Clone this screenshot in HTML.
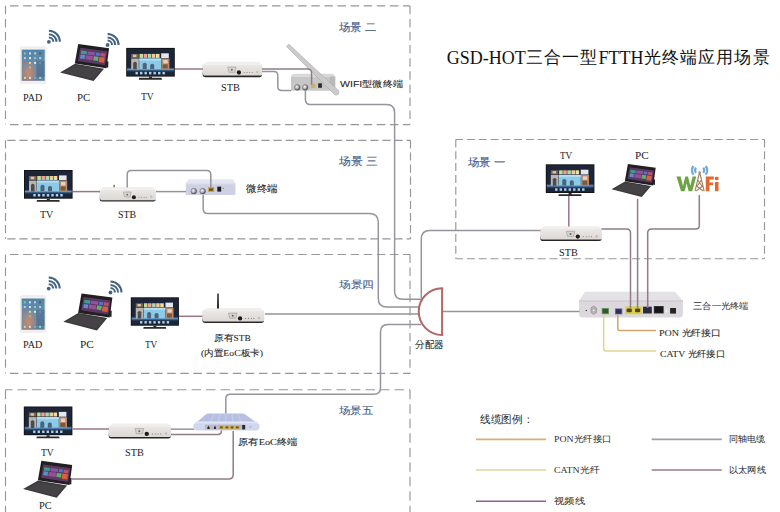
<!DOCTYPE html>
<html><head><meta charset="utf-8">
<style>
*{margin:0;padding:0;box-sizing:border-box}
html,body{width:780px;height:512px;overflow:hidden;background:#fff}
body{position:relative;font-family:"Liberation Serif",serif;color:#222}
svg{position:absolute;left:0;top:0}
.t{position:absolute;white-space:nowrap;line-height:1;transform-origin:0 0}
.s{font-family:"Liberation Sans",sans-serif}
.lab{font-size:11px;color:#333}
.cj{font-size:16.6px;letter-spacing:1.2px;position:relative;top:-1.2px}
.sc{font-family:"Liberation Sans",sans-serif;font-size:10.5px;color:#52688e}
</style></head><body>
<svg width="780" height="512" viewBox="0 0 780 512">
<defs>
<linearGradient id="padg" x1="0" y1="0" x2="0" y2="1"><stop offset="0" stop-color="#4f86aa"/><stop offset=".5" stop-color="#6c8ea6"/><stop offset="1" stop-color="#5a7f9c"/></linearGradient>
<radialGradient id="pado" cx=".3" cy=".78" r=".42"><stop offset="0" stop-color="#d98c60" stop-opacity=".9"/><stop offset=".55" stop-color="#c88a78" stop-opacity=".5"/><stop offset="1" stop-color="#c98a72" stop-opacity="0"/></radialGradient>
<linearGradient id="stbf" x1="0" y1="0" x2="0" y2="1"><stop offset="0" stop-color="#ebe8e5"/><stop offset="1" stop-color="#dcd7d3"/></linearGradient>
<linearGradient id="tvglow" x1="0" y1="0" x2="0" y2="1"><stop offset="0" stop-color="#4a88c4" stop-opacity=".2"/><stop offset=".35" stop-color="#5a98d0"/><stop offset="1" stop-color="#1d2538" stop-opacity="0"/></linearGradient>
<radialGradient id="coax" cx=".4" cy=".4" r=".6"><stop offset="0" stop-color="#fafafa"/><stop offset=".5" stop-color="#b4b4b4"/><stop offset="1" stop-color="#4a4a4a"/></radialGradient>





</defs>
<!-- dashed boxes -->
<g fill="none" stroke="#979797" stroke-width="1.15">
<path d="M5.5 5.8 H410" stroke-dasharray="8.5 4.6" stroke-dashoffset="-4.5"/>
<path d="M5.5 5.8 V124.6" stroke-dasharray="8.5 4.6"/>
<path d="M410 5.8 V124.6" stroke-dasharray="8.5 4.6"/>
<path d="M5.5 124.6 H410" stroke-dasharray="8.5 4.6" stroke-dashoffset="-4.5"/>
<path d="M5.5 140.3 H410.5" stroke-dasharray="8.2 3.9" stroke-dashoffset="-1.8"/>
<path d="M5.5 140.3 V238.8" stroke-dasharray="8.2 3.9"/>
<path d="M410.5 140.3 V238.8" stroke-dasharray="8.2 3.9"/>
<path d="M5.5 238.8 H410.5" stroke-dasharray="8.2 3.9" stroke-dashoffset="-1.8"/>
<path d="M5.5 254.5 H410" stroke-dasharray="8.5 4.6" stroke-dashoffset="-4.5"/>
<path d="M5.5 254.5 V373.4" stroke-dasharray="8.5 4.6"/>
<path d="M410 254.5 V373.4" stroke-dasharray="8.5 4.6"/>
<path d="M5.5 373.4 H410" stroke-dasharray="8.5 4.6" stroke-dashoffset="-4.5"/>
<path d="M5.5 389.7 H410" stroke-dasharray="9.5 5" stroke-dashoffset="2.5"/>
<path d="M5.5 389.7 V530" stroke-dasharray="9.5 5"/>
<path d="M410 389.7 V530" stroke-dasharray="9.5 5"/>
<path d="M455.8 139.5 H764.5" stroke-dasharray="8 3.8" stroke-dashoffset="0.7"/>
<path d="M455.8 139.5 V258.7" stroke-dasharray="8 3.8"/>
<path d="M764.5 139.5 V258.7" stroke-dasharray="8 3.8"/>
<path d="M455.8 258.7 H764.5" stroke-dasharray="8 3.8" stroke-dashoffset="0.7"/>
</g>
<!-- devices -->
<g transform="translate(20.4 46.9)">
 <rect x="0" y="0" width="25.3" height="36.4" rx="1.2" fill="#f3f2f1" stroke="#dcdad8" stroke-width=".5"/>
 <rect x="1.3" y="2.7" width="23" height="31.2" fill="url(#padg)"/>
 <rect x="1.3" y="2.7" width="23" height="31.2" fill="url(#pado)"/>
 <rect x="16" y="14" width="8.3" height="16" fill="#3c6288" opacity=".45"/>
 <g opacity=".9"><rect x="3.5" y="5.5" width="2" height="2" fill="#9ad08a"/><rect x="8.6" y="5.5" width="2" height="2" fill="#e8eef4"/><rect x="13.7" y="5.5" width="2" height="2" fill="#d0d8e0"/><rect x="18.8" y="5.5" width="2" height="2" fill="#505868"/><rect x="3.5" y="10.2" width="2" height="2" fill="#c8d8e8"/><rect x="8.6" y="10.2" width="2" height="2" fill="#f0f0f0"/><rect x="13.7" y="10.2" width="2" height="2" fill="#a0c8e0"/><rect x="18.8" y="10.2" width="2" height="2" fill="#c8d0d8"/><rect x="3.5" y="15" width="2" height="2" fill="#e06060"/><rect x="8.6" y="15" width="2" height="2" fill="#f0e090"/><rect x="13.7" y="15" width="2" height="2" fill="#f4f4f4"/><rect x="18.8" y="15" width="2" height="2" fill="#8090b0"/><rect x="8.6" y="19.6" width="2" height="2" fill="#f0b060"/><rect x="3.5" y="30" width="2" height="2" fill="#f0e0a0"/><rect x="8.6" y="30" width="2" height="2" fill="#e0e8f0"/><rect x="13.7" y="30" width="2" height="2" fill="#70b0e0"/><rect x="18.8" y="30" width="2" height="2" fill="#a0e0e0"/></g></g>
<g transform="translate(60 44.1)">
 <path d="M0 28.3 L15 19.6 L44 24.6 L33.6 37 Z" fill="#3b393b"/>
 <path d="M3 28.3 L15.5 21.2 L41.5 25.6 L33 35 Z" fill="#444244"/>
 <path d="M18.2 0 L49.1 4.1 L46.4 24.2 L14.8 19.5 Z" fill="#221e21"/>
 <path d="M20.3 3.6 L47.2 7.2 L45 21.2 L17.9 16.9 Z" fill="#5a3a62"/>
 <path d="M21.2 6.5 L27 7.2 L26.6 10.3 L20.8 9.6 Z" fill="#3aa08e"/>
 <path d="M27.8 7.3 L35 8.2 L34.5 11.3 L27.4 10.4 Z" fill="#8a55a8"/>
 <path d="M36 8.3 L40 8.8 L39.6 11.8 L35.6 11.3 Z" fill="#4a78c8"/>
 <path d="M40.8 8.9 L45.5 9.5 L45 12.6 L40.4 12 Z" fill="#c2506a"/>
 <path d="M20.6 10.5 L25 11 L24.5 15 L20 14.4 Z" fill="#5e8ad0"/>
 <path d="M25.8 11.1 L33 12 L32.4 16.1 L25.3 15.2 Z" fill="#9a4e9a"/>
 <path d="M33.8 12.1 L38.5 12.7 L37.9 16.8 L33.2 16.2 Z" fill="#60b06a"/>
 <path d="M39.3 12.8 L44.8 13.5 L44.1 18.7 L38.6 17.9 Z" fill="#d8603e"/>
 <path d="M46.3 17 L48.4 17.3 L48.2 23.6 L46 23.1 Z" fill="#252525"/></g>
<g transform="translate(126.2 47.9)">
 <rect x="0" y="0" width="48.6" height="28.7" fill="#121216"/>
 <rect x="0.9" y="0.9" width="46.8" height="26.9" fill="#1d2538"/>
 <rect x="0.9" y="19.8" width="46.8" height="5" fill="url(#tvglow)"/>
 <rect x="5" y="6" width="7.5" height="4" fill="#7a6650"/>
 <rect x="6.8" y="6.8" width="3.4" height="2.4" fill="#d8c8b0"/>
 <rect x="13.3" y="6" width="3.6" height="4" fill="#c6dc96"/>
 <rect x="17.4" y="6" width="3.6" height="4" fill="#eba098"/>
 <rect x="21.5" y="6" width="3.6" height="4" fill="#acd8ac"/>
 <rect x="25.6" y="6" width="3.6" height="4" fill="#f3c998"/>
 <rect x="29.7" y="6" width="3.6" height="4" fill="#f2de98"/>
 <rect x="35" y="5.4" width="7.6" height="4.8" fill="#e6e6ee"/>
 <rect x="5" y="10.6" width="7.6" height="10.8" fill="#b8b6ae"/>
 <path d="M7 21.4 V15 Q8.8 12.5 10.6 15 V21.4 Z" fill="#4a4c4e"/>
 <rect x="13" y="10.6" width="22" height="10.6" fill="#8ccae9"/>
 <rect x="13" y="10.6" width="22" height="2" fill="#b4def2"/>
 <path d="M16.5 21.2 V16 Q18.5 13.5 20.5 16 V21.2 Z M24 21.2 V17 Q26 14.8 28 17 V21.2 Z" fill="#4c6478"/>
 <rect x="35.2" y="10.6" width="8" height="10.8" fill="#b88a64"/>
 <rect x="37" y="12" width="4.5" height="3.5" fill="#ece4dc" opacity=".8"/>
 <rect x="36.5" y="16.5" width="5" height="4" fill="#4a3a30" opacity=".6"/>
 <g fill="#a8d0ee"><rect x="9.3" y="24" width="2.4" height="2.5"/><rect x="13.8" y="24" width="2.4" height="2.5"/><rect x="18.3" y="24" width="2.4" height="2.5"/><rect x="22.8" y="24" width="2.4" height="2.5"/><rect x="27.3" y="24" width="2.4" height="2.5"/><rect x="31.8" y="24" width="2.4" height="2.5"/><rect x="36.3" y="24" width="2.4" height="2.5"/></g>
 <path d="M22.8 28.7 H25.8 V29.9 H35.4 L35.8 31.8 H12.6 L13 29.9 H22.8 Z" fill="#2a2a2c"/></g>
<g transform="translate(48.9 41.8)" fill="none" stroke="#436382" stroke-width="2" stroke-linecap="butt">
 <circle cx="0" cy="0" r="1.9" fill="#436382" stroke="none"/>
 <path d="M0 -4.4 A4.4 4.4 0 0 1 4.4 0"/>
 <path d="M0 -7.6 A7.6 7.6 0 0 1 7.6 0"/>
 <path d="M0 -11 A11 11 0 0 1 11 0"/></g>
<g transform="translate(107.6 45)" fill="none" stroke="#436382" stroke-width="2" stroke-linecap="butt">
 <circle cx="0" cy="0" r="1.9" fill="#436382" stroke="none"/>
 <path d="M0 -4.4 A4.4 4.4 0 0 1 4.4 0"/>
 <path d="M0 -7.6 A7.6 7.6 0 0 1 7.6 0"/>
 <path d="M0 -11 A11 11 0 0 1 11 0"/></g>
<g transform="translate(202.5 61.8) scale(0.995 1.03)"><g>
 <path d="M4.2 0 H56.5 L60 2.9 H0 Z" fill="#f1efed"/>
 <path d="M0 2.8 H60 Q60.4 8 59.8 13.4 H0.3 Q-0.3 8 0 2.8 Z" fill="url(#stbf)"/>
 <path d="M0.3 12.6 Q0 14.9 3 14.9 H57.5 Q59.8 14.9 59.8 12.8 L58.8 13.4 H1.6 Z" fill="#262525"/>
 <path d="M0.3 8 Q0 12.8 1.8 13.6 L1 14 Q-0.4 12 0.3 8 Z" fill="#555"/>
 <path d="M25.4 5.1 H33.7 L32.5 10.2 H26.6 Z" fill="#d8d3ce" stroke="#9d9893" stroke-width=".6"/>
 <circle cx="29.5" cy="7.8" r="1" fill="#6d6a66"/>
 <circle cx="36.6" cy="10.4" r="2.1" fill="#1b1b1b"/>
 <g fill="#8a8684"><circle cx="42" cy="10.4" r=".55"/><circle cx="44.8" cy="10.4" r=".55"/><circle cx="47.5" cy="10.4" r=".55"/><circle cx="49.9" cy="10.4" r=".55"/></g>
 <circle cx="55" cy="10" r="1.2" fill="#c4c0bc"/></g></g>
<g transform="translate(24 170)">
 <rect x="0" y="0" width="48.6" height="28.7" fill="#121216"/>
 <rect x="0.9" y="0.9" width="46.8" height="26.9" fill="#1d2538"/>
 <rect x="0.9" y="19.8" width="46.8" height="5" fill="url(#tvglow)"/>
 <rect x="5" y="6" width="7.5" height="4" fill="#7a6650"/>
 <rect x="6.8" y="6.8" width="3.4" height="2.4" fill="#d8c8b0"/>
 <rect x="13.3" y="6" width="3.6" height="4" fill="#c6dc96"/>
 <rect x="17.4" y="6" width="3.6" height="4" fill="#eba098"/>
 <rect x="21.5" y="6" width="3.6" height="4" fill="#acd8ac"/>
 <rect x="25.6" y="6" width="3.6" height="4" fill="#f3c998"/>
 <rect x="29.7" y="6" width="3.6" height="4" fill="#f2de98"/>
 <rect x="35" y="5.4" width="7.6" height="4.8" fill="#e6e6ee"/>
 <rect x="5" y="10.6" width="7.6" height="10.8" fill="#b8b6ae"/>
 <path d="M7 21.4 V15 Q8.8 12.5 10.6 15 V21.4 Z" fill="#4a4c4e"/>
 <rect x="13" y="10.6" width="22" height="10.6" fill="#8ccae9"/>
 <rect x="13" y="10.6" width="22" height="2" fill="#b4def2"/>
 <path d="M16.5 21.2 V16 Q18.5 13.5 20.5 16 V21.2 Z M24 21.2 V17 Q26 14.8 28 17 V21.2 Z" fill="#4c6478"/>
 <rect x="35.2" y="10.6" width="8" height="10.8" fill="#b88a64"/>
 <rect x="37" y="12" width="4.5" height="3.5" fill="#ece4dc" opacity=".8"/>
 <rect x="36.5" y="16.5" width="5" height="4" fill="#4a3a30" opacity=".6"/>
 <g fill="#a8d0ee"><rect x="9.3" y="24" width="2.4" height="2.5"/><rect x="13.8" y="24" width="2.4" height="2.5"/><rect x="18.3" y="24" width="2.4" height="2.5"/><rect x="22.8" y="24" width="2.4" height="2.5"/><rect x="27.3" y="24" width="2.4" height="2.5"/><rect x="31.8" y="24" width="2.4" height="2.5"/><rect x="36.3" y="24" width="2.4" height="2.5"/></g>
 <path d="M22.8 28.7 H25.8 V29.9 H35.4 L35.8 31.8 H12.6 L13 29.9 H22.8 Z" fill="#2a2a2c"/></g>
<g transform="translate(99.5 187) scale(0.94 0.98)"><g>
 <path d="M4.2 0 H56.5 L60 2.9 H0 Z" fill="#f1efed"/>
 <path d="M0 2.8 H60 Q60.4 8 59.8 13.4 H0.3 Q-0.3 8 0 2.8 Z" fill="url(#stbf)"/>
 <path d="M0.3 12.6 Q0 14.9 3 14.9 H57.5 Q59.8 14.9 59.8 12.8 L58.8 13.4 H1.6 Z" fill="#262525"/>
 <path d="M0.3 8 Q0 12.8 1.8 13.6 L1 14 Q-0.4 12 0.3 8 Z" fill="#555"/>
 <path d="M25.4 5.1 H33.7 L32.5 10.2 H26.6 Z" fill="#d8d3ce" stroke="#9d9893" stroke-width=".6"/>
 <circle cx="29.5" cy="7.8" r="1" fill="#6d6a66"/>
 <circle cx="36.6" cy="10.4" r="2.1" fill="#1b1b1b"/>
 <g fill="#8a8684"><circle cx="42" cy="10.4" r=".55"/><circle cx="44.8" cy="10.4" r=".55"/><circle cx="47.5" cy="10.4" r=".55"/><circle cx="49.9" cy="10.4" r=".55"/></g>
 <circle cx="55" cy="10" r="1.2" fill="#c4c0bc"/></g></g>
<g transform="translate(20.3 295.8)">
 <rect x="0" y="0" width="25.3" height="36.4" rx="1.2" fill="#f3f2f1" stroke="#dcdad8" stroke-width=".5"/>
 <rect x="1.3" y="2.7" width="23" height="31.2" fill="url(#padg)"/>
 <rect x="1.3" y="2.7" width="23" height="31.2" fill="url(#pado)"/>
 <rect x="16" y="14" width="8.3" height="16" fill="#3c6288" opacity=".45"/>
 <g opacity=".9"><rect x="3.5" y="5.5" width="2" height="2" fill="#9ad08a"/><rect x="8.6" y="5.5" width="2" height="2" fill="#e8eef4"/><rect x="13.7" y="5.5" width="2" height="2" fill="#d0d8e0"/><rect x="18.8" y="5.5" width="2" height="2" fill="#505868"/><rect x="3.5" y="10.2" width="2" height="2" fill="#c8d8e8"/><rect x="8.6" y="10.2" width="2" height="2" fill="#f0f0f0"/><rect x="13.7" y="10.2" width="2" height="2" fill="#a0c8e0"/><rect x="18.8" y="10.2" width="2" height="2" fill="#c8d0d8"/><rect x="3.5" y="15" width="2" height="2" fill="#e06060"/><rect x="8.6" y="15" width="2" height="2" fill="#f0e090"/><rect x="13.7" y="15" width="2" height="2" fill="#f4f4f4"/><rect x="18.8" y="15" width="2" height="2" fill="#8090b0"/><rect x="8.6" y="19.6" width="2" height="2" fill="#f0b060"/><rect x="3.5" y="30" width="2" height="2" fill="#f0e0a0"/><rect x="8.6" y="30" width="2" height="2" fill="#e0e8f0"/><rect x="13.7" y="30" width="2" height="2" fill="#70b0e0"/><rect x="18.8" y="30" width="2" height="2" fill="#a0e0e0"/></g></g>
<g transform="translate(63.3 293.4)">
 <path d="M0 28.3 L15 19.6 L44 24.6 L33.6 37 Z" fill="#3b393b"/>
 <path d="M3 28.3 L15.5 21.2 L41.5 25.6 L33 35 Z" fill="#444244"/>
 <path d="M18.2 0 L49.1 4.1 L46.4 24.2 L14.8 19.5 Z" fill="#221e21"/>
 <path d="M20.3 3.6 L47.2 7.2 L45 21.2 L17.9 16.9 Z" fill="#5a3a62"/>
 <path d="M21.2 6.5 L27 7.2 L26.6 10.3 L20.8 9.6 Z" fill="#3aa08e"/>
 <path d="M27.8 7.3 L35 8.2 L34.5 11.3 L27.4 10.4 Z" fill="#8a55a8"/>
 <path d="M36 8.3 L40 8.8 L39.6 11.8 L35.6 11.3 Z" fill="#4a78c8"/>
 <path d="M40.8 8.9 L45.5 9.5 L45 12.6 L40.4 12 Z" fill="#c2506a"/>
 <path d="M20.6 10.5 L25 11 L24.5 15 L20 14.4 Z" fill="#5e8ad0"/>
 <path d="M25.8 11.1 L33 12 L32.4 16.1 L25.3 15.2 Z" fill="#9a4e9a"/>
 <path d="M33.8 12.1 L38.5 12.7 L37.9 16.8 L33.2 16.2 Z" fill="#60b06a"/>
 <path d="M39.3 12.8 L44.8 13.5 L44.1 18.7 L38.6 17.9 Z" fill="#d8603e"/>
 <path d="M46.3 17 L48.4 17.3 L48.2 23.6 L46 23.1 Z" fill="#252525"/></g>
<g transform="translate(130.8 297.3) scale(0.99 0.99)"><g>
 <rect x="0" y="0" width="48.6" height="28.7" fill="#121216"/>
 <rect x="0.9" y="0.9" width="46.8" height="26.9" fill="#1d2538"/>
 <rect x="0.9" y="19.8" width="46.8" height="5" fill="url(#tvglow)"/>
 <rect x="5" y="6" width="7.5" height="4" fill="#7a6650"/>
 <rect x="6.8" y="6.8" width="3.4" height="2.4" fill="#d8c8b0"/>
 <rect x="13.3" y="6" width="3.6" height="4" fill="#c6dc96"/>
 <rect x="17.4" y="6" width="3.6" height="4" fill="#eba098"/>
 <rect x="21.5" y="6" width="3.6" height="4" fill="#acd8ac"/>
 <rect x="25.6" y="6" width="3.6" height="4" fill="#f3c998"/>
 <rect x="29.7" y="6" width="3.6" height="4" fill="#f2de98"/>
 <rect x="35" y="5.4" width="7.6" height="4.8" fill="#e6e6ee"/>
 <rect x="5" y="10.6" width="7.6" height="10.8" fill="#b8b6ae"/>
 <path d="M7 21.4 V15 Q8.8 12.5 10.6 15 V21.4 Z" fill="#4a4c4e"/>
 <rect x="13" y="10.6" width="22" height="10.6" fill="#8ccae9"/>
 <rect x="13" y="10.6" width="22" height="2" fill="#b4def2"/>
 <path d="M16.5 21.2 V16 Q18.5 13.5 20.5 16 V21.2 Z M24 21.2 V17 Q26 14.8 28 17 V21.2 Z" fill="#4c6478"/>
 <rect x="35.2" y="10.6" width="8" height="10.8" fill="#b88a64"/>
 <rect x="37" y="12" width="4.5" height="3.5" fill="#ece4dc" opacity=".8"/>
 <rect x="36.5" y="16.5" width="5" height="4" fill="#4a3a30" opacity=".6"/>
 <g fill="#a8d0ee"><rect x="9.3" y="24" width="2.4" height="2.5"/><rect x="13.8" y="24" width="2.4" height="2.5"/><rect x="18.3" y="24" width="2.4" height="2.5"/><rect x="22.8" y="24" width="2.4" height="2.5"/><rect x="27.3" y="24" width="2.4" height="2.5"/><rect x="31.8" y="24" width="2.4" height="2.5"/><rect x="36.3" y="24" width="2.4" height="2.5"/></g>
 <path d="M22.8 28.7 H25.8 V29.9 H35.4 L35.8 31.8 H12.6 L13 29.9 H22.8 Z" fill="#2a2a2c"/></g></g>
<g transform="translate(48.7 288.6)" fill="none" stroke="#436382" stroke-width="2" stroke-linecap="butt">
 <circle cx="0" cy="0" r="1.9" fill="#436382" stroke="none"/>
 <path d="M0 -4.4 A4.4 4.4 0 0 1 4.4 0"/>
 <path d="M0 -7.6 A7.6 7.6 0 0 1 7.6 0"/>
 <path d="M0 -11 A11 11 0 0 1 11 0"/></g>
<g transform="translate(110.5 292.5)" fill="none" stroke="#436382" stroke-width="2" stroke-linecap="butt">
 <circle cx="0" cy="0" r="1.9" fill="#436382" stroke="none"/>
 <path d="M0 -4.4 A4.4 4.4 0 0 1 4.4 0"/>
 <path d="M0 -7.6 A7.6 7.6 0 0 1 7.6 0"/>
 <path d="M0 -11 A11 11 0 0 1 11 0"/></g>
<g transform="translate(202.3 308) scale(1.032 1.0)"><g>
 <path d="M4.2 0 H56.5 L60 2.9 H0 Z" fill="#f1efed"/>
 <path d="M0 2.8 H60 Q60.4 8 59.8 13.4 H0.3 Q-0.3 8 0 2.8 Z" fill="url(#stbf)"/>
 <path d="M0.3 12.6 Q0 14.9 3 14.9 H57.5 Q59.8 14.9 59.8 12.8 L58.8 13.4 H1.6 Z" fill="#262525"/>
 <path d="M0.3 8 Q0 12.8 1.8 13.6 L1 14 Q-0.4 12 0.3 8 Z" fill="#555"/>
 <path d="M25.4 5.1 H33.7 L32.5 10.2 H26.6 Z" fill="#d8d3ce" stroke="#9d9893" stroke-width=".6"/>
 <circle cx="29.5" cy="7.8" r="1" fill="#6d6a66"/>
 <circle cx="36.6" cy="10.4" r="2.1" fill="#1b1b1b"/>
 <g fill="#8a8684"><circle cx="42" cy="10.4" r=".55"/><circle cx="44.8" cy="10.4" r=".55"/><circle cx="47.5" cy="10.4" r=".55"/><circle cx="49.9" cy="10.4" r=".55"/></g>
 <circle cx="55" cy="10" r="1.2" fill="#c4c0bc"/></g></g>
<g transform="translate(23.8 406.5)">
 <rect x="0" y="0" width="48.6" height="28.7" fill="#121216"/>
 <rect x="0.9" y="0.9" width="46.8" height="26.9" fill="#1d2538"/>
 <rect x="0.9" y="19.8" width="46.8" height="5" fill="url(#tvglow)"/>
 <rect x="5" y="6" width="7.5" height="4" fill="#7a6650"/>
 <rect x="6.8" y="6.8" width="3.4" height="2.4" fill="#d8c8b0"/>
 <rect x="13.3" y="6" width="3.6" height="4" fill="#c6dc96"/>
 <rect x="17.4" y="6" width="3.6" height="4" fill="#eba098"/>
 <rect x="21.5" y="6" width="3.6" height="4" fill="#acd8ac"/>
 <rect x="25.6" y="6" width="3.6" height="4" fill="#f3c998"/>
 <rect x="29.7" y="6" width="3.6" height="4" fill="#f2de98"/>
 <rect x="35" y="5.4" width="7.6" height="4.8" fill="#e6e6ee"/>
 <rect x="5" y="10.6" width="7.6" height="10.8" fill="#b8b6ae"/>
 <path d="M7 21.4 V15 Q8.8 12.5 10.6 15 V21.4 Z" fill="#4a4c4e"/>
 <rect x="13" y="10.6" width="22" height="10.6" fill="#8ccae9"/>
 <rect x="13" y="10.6" width="22" height="2" fill="#b4def2"/>
 <path d="M16.5 21.2 V16 Q18.5 13.5 20.5 16 V21.2 Z M24 21.2 V17 Q26 14.8 28 17 V21.2 Z" fill="#4c6478"/>
 <rect x="35.2" y="10.6" width="8" height="10.8" fill="#b88a64"/>
 <rect x="37" y="12" width="4.5" height="3.5" fill="#ece4dc" opacity=".8"/>
 <rect x="36.5" y="16.5" width="5" height="4" fill="#4a3a30" opacity=".6"/>
 <g fill="#a8d0ee"><rect x="9.3" y="24" width="2.4" height="2.5"/><rect x="13.8" y="24" width="2.4" height="2.5"/><rect x="18.3" y="24" width="2.4" height="2.5"/><rect x="22.8" y="24" width="2.4" height="2.5"/><rect x="27.3" y="24" width="2.4" height="2.5"/><rect x="31.8" y="24" width="2.4" height="2.5"/><rect x="36.3" y="24" width="2.4" height="2.5"/></g>
 <path d="M22.8 28.7 H25.8 V29.9 H35.4 L35.8 31.8 H12.6 L13 29.9 H22.8 Z" fill="#2a2a2c"/></g>
<g transform="translate(108.5 423.5) scale(1.045 1.0)"><g>
 <path d="M4.2 0 H56.5 L60 2.9 H0 Z" fill="#f1efed"/>
 <path d="M0 2.8 H60 Q60.4 8 59.8 13.4 H0.3 Q-0.3 8 0 2.8 Z" fill="url(#stbf)"/>
 <path d="M0.3 12.6 Q0 14.9 3 14.9 H57.5 Q59.8 14.9 59.8 12.8 L58.8 13.4 H1.6 Z" fill="#262525"/>
 <path d="M0.3 8 Q0 12.8 1.8 13.6 L1 14 Q-0.4 12 0.3 8 Z" fill="#555"/>
 <path d="M25.4 5.1 H33.7 L32.5 10.2 H26.6 Z" fill="#d8d3ce" stroke="#9d9893" stroke-width=".6"/>
 <circle cx="29.5" cy="7.8" r="1" fill="#6d6a66"/>
 <circle cx="36.6" cy="10.4" r="2.1" fill="#1b1b1b"/>
 <g fill="#8a8684"><circle cx="42" cy="10.4" r=".55"/><circle cx="44.8" cy="10.4" r=".55"/><circle cx="47.5" cy="10.4" r=".55"/><circle cx="49.9" cy="10.4" r=".55"/></g>
 <circle cx="55" cy="10" r="1.2" fill="#c4c0bc"/></g></g>
<g transform="translate(23.1 460.8)">
 <path d="M0 28.3 L15 19.6 L44 24.6 L33.6 37 Z" fill="#3b393b"/>
 <path d="M3 28.3 L15.5 21.2 L41.5 25.6 L33 35 Z" fill="#444244"/>
 <path d="M18.2 0 L49.1 4.1 L46.4 24.2 L14.8 19.5 Z" fill="#221e21"/>
 <path d="M20.3 3.6 L47.2 7.2 L45 21.2 L17.9 16.9 Z" fill="#5a3a62"/>
 <path d="M21.2 6.5 L27 7.2 L26.6 10.3 L20.8 9.6 Z" fill="#3aa08e"/>
 <path d="M27.8 7.3 L35 8.2 L34.5 11.3 L27.4 10.4 Z" fill="#8a55a8"/>
 <path d="M36 8.3 L40 8.8 L39.6 11.8 L35.6 11.3 Z" fill="#4a78c8"/>
 <path d="M40.8 8.9 L45.5 9.5 L45 12.6 L40.4 12 Z" fill="#c2506a"/>
 <path d="M20.6 10.5 L25 11 L24.5 15 L20 14.4 Z" fill="#5e8ad0"/>
 <path d="M25.8 11.1 L33 12 L32.4 16.1 L25.3 15.2 Z" fill="#9a4e9a"/>
 <path d="M33.8 12.1 L38.5 12.7 L37.9 16.8 L33.2 16.2 Z" fill="#60b06a"/>
 <path d="M39.3 12.8 L44.8 13.5 L44.1 18.7 L38.6 17.9 Z" fill="#d8603e"/>
 <path d="M46.3 17 L48.4 17.3 L48.2 23.6 L46 23.1 Z" fill="#252525"/></g>
<g transform="translate(545.8 164.3)">
 <rect x="0" y="0" width="48.6" height="28.7" fill="#121216"/>
 <rect x="0.9" y="0.9" width="46.8" height="26.9" fill="#1d2538"/>
 <rect x="0.9" y="19.8" width="46.8" height="5" fill="url(#tvglow)"/>
 <rect x="5" y="6" width="7.5" height="4" fill="#7a6650"/>
 <rect x="6.8" y="6.8" width="3.4" height="2.4" fill="#d8c8b0"/>
 <rect x="13.3" y="6" width="3.6" height="4" fill="#c6dc96"/>
 <rect x="17.4" y="6" width="3.6" height="4" fill="#eba098"/>
 <rect x="21.5" y="6" width="3.6" height="4" fill="#acd8ac"/>
 <rect x="25.6" y="6" width="3.6" height="4" fill="#f3c998"/>
 <rect x="29.7" y="6" width="3.6" height="4" fill="#f2de98"/>
 <rect x="35" y="5.4" width="7.6" height="4.8" fill="#e6e6ee"/>
 <rect x="5" y="10.6" width="7.6" height="10.8" fill="#b8b6ae"/>
 <path d="M7 21.4 V15 Q8.8 12.5 10.6 15 V21.4 Z" fill="#4a4c4e"/>
 <rect x="13" y="10.6" width="22" height="10.6" fill="#8ccae9"/>
 <rect x="13" y="10.6" width="22" height="2" fill="#b4def2"/>
 <path d="M16.5 21.2 V16 Q18.5 13.5 20.5 16 V21.2 Z M24 21.2 V17 Q26 14.8 28 17 V21.2 Z" fill="#4c6478"/>
 <rect x="35.2" y="10.6" width="8" height="10.8" fill="#b88a64"/>
 <rect x="37" y="12" width="4.5" height="3.5" fill="#ece4dc" opacity=".8"/>
 <rect x="36.5" y="16.5" width="5" height="4" fill="#4a3a30" opacity=".6"/>
 <g fill="#a8d0ee"><rect x="9.3" y="24" width="2.4" height="2.5"/><rect x="13.8" y="24" width="2.4" height="2.5"/><rect x="18.3" y="24" width="2.4" height="2.5"/><rect x="22.8" y="24" width="2.4" height="2.5"/><rect x="27.3" y="24" width="2.4" height="2.5"/><rect x="31.8" y="24" width="2.4" height="2.5"/><rect x="36.3" y="24" width="2.4" height="2.5"/></g>
 <path d="M22.8 28.7 H25.8 V29.9 H35.4 L35.8 31.8 H12.6 L13 29.9 H22.8 Z" fill="#2a2a2c"/></g>
<g transform="translate(540.2 226.2) scale(1.027 1.0)"><g>
 <path d="M4.2 0 H56.5 L60 2.9 H0 Z" fill="#f1efed"/>
 <path d="M0 2.8 H60 Q60.4 8 59.8 13.4 H0.3 Q-0.3 8 0 2.8 Z" fill="url(#stbf)"/>
 <path d="M0.3 12.6 Q0 14.9 3 14.9 H57.5 Q59.8 14.9 59.8 12.8 L58.8 13.4 H1.6 Z" fill="#262525"/>
 <path d="M0.3 8 Q0 12.8 1.8 13.6 L1 14 Q-0.4 12 0.3 8 Z" fill="#555"/>
 <path d="M25.4 5.1 H33.7 L32.5 10.2 H26.6 Z" fill="#d8d3ce" stroke="#9d9893" stroke-width=".6"/>
 <circle cx="29.5" cy="7.8" r="1" fill="#6d6a66"/>
 <circle cx="36.6" cy="10.4" r="2.1" fill="#1b1b1b"/>
 <g fill="#8a8684"><circle cx="42" cy="10.4" r=".55"/><circle cx="44.8" cy="10.4" r=".55"/><circle cx="47.5" cy="10.4" r=".55"/><circle cx="49.9" cy="10.4" r=".55"/></g>
 <circle cx="55" cy="10" r="1.2" fill="#c4c0bc"/></g></g>
<g transform="translate(611.5 164) scale(0.9 0.89)"><g>
 <path d="M0 28.3 L15 19.6 L44 24.6 L33.6 37 Z" fill="#3b393b"/>
 <path d="M3 28.3 L15.5 21.2 L41.5 25.6 L33 35 Z" fill="#444244"/>
 <path d="M18.2 0 L49.1 4.1 L46.4 24.2 L14.8 19.5 Z" fill="#221e21"/>
 <path d="M20.3 3.6 L47.2 7.2 L45 21.2 L17.9 16.9 Z" fill="#5a3a62"/>
 <path d="M21.2 6.5 L27 7.2 L26.6 10.3 L20.8 9.6 Z" fill="#3aa08e"/>
 <path d="M27.8 7.3 L35 8.2 L34.5 11.3 L27.4 10.4 Z" fill="#8a55a8"/>
 <path d="M36 8.3 L40 8.8 L39.6 11.8 L35.6 11.3 Z" fill="#4a78c8"/>
 <path d="M40.8 8.9 L45.5 9.5 L45 12.6 L40.4 12 Z" fill="#c2506a"/>
 <path d="M20.6 10.5 L25 11 L24.5 15 L20 14.4 Z" fill="#5e8ad0"/>
 <path d="M25.8 11.1 L33 12 L32.4 16.1 L25.3 15.2 Z" fill="#9a4e9a"/>
 <path d="M33.8 12.1 L38.5 12.7 L37.9 16.8 L33.2 16.2 Z" fill="#60b06a"/>
 <path d="M39.3 12.8 L44.8 13.5 L44.1 18.7 L38.6 17.9 Z" fill="#d8603e"/>
 <path d="M46.3 17 L48.4 17.3 L48.2 23.6 L46 23.1 Z" fill="#252525"/></g></g>
<!-- wifi terminal -->
<path d="M293 73.7 H333 L335.2 76.5 H291 Z" fill="#d9d9da"/>
<rect x="291" y="76.5" width="44.2" height="14.2" fill="#c7c7c8"/>
<rect x="330" y="76.5" width="5.2" height="14.2" fill="#b9b9ba"/>
<circle cx="297.3" cy="87.4" r="2.8" fill="url(#coax)" stroke="#6a6a70" stroke-width=".4"/>
<circle cx="305.2" cy="87.4" r="2.8" fill="url(#coax)" stroke="#6a6a70" stroke-width=".4"/>
<rect x="310.9" y="83.9" width="4.5" height="3.9" fill="#c9b06c"/>
<rect x="318.2" y="83.3" width="3.7" height="4.5" fill="#2a2a2a"/>
<path d="M288.9 44.2 L286.5 46.6 L334.5 94.4 Q336.4 96 338.3 94 Q339.5 92 338.3 90.4 Z" fill="#cbcbcc" stroke="#a9a9aa" stroke-width=".6"/>
<!-- micro terminal -->
<path d="M188.5 179.3 H233 L235.4 183.5 H185.8 Z" fill="#e3e5f1"/>
<rect x="185.8" y="183.5" width="49.6" height="11.5" fill="#ced1e4"/>
<rect x="185.8" y="183.5" width="49.6" height="1" fill="#dadcec"/>
<circle cx="193.8" cy="191.2" r="2.9" fill="url(#coax)" stroke="#6a6a70" stroke-width=".4"/>
<circle cx="202.7" cy="191.2" r="2.9" fill="url(#coax)" stroke="#6a6a70" stroke-width=".4"/>
<rect x="208" y="187" width="6.2" height="5" fill="#c9a848"/>
<rect x="209" y="188.4" width="4.2" height="2.4" fill="#6a5020"/>
<rect x="217.3" y="186.6" width="3.9" height="5" fill="#1e1e1e"/>
<circle cx="223.5" cy="188.3" r=".5" fill="#666"/>
<!-- EoC terminal -->
<path d="M208.5 413.4 Q207 413.4 206 414.2 L195.5 423.2 H257.4 L245 414.2 Q244 413.4 242.6 413.4 Z" fill="#b7c0e2"/>
<g stroke="#cdd3ef" stroke-width=".8"><path d="M214 413.8 L210 423"/><path d="M220 413.8 L218 423"/><path d="M226 413.8 L225.5 423"/><path d="M232 413.8 L233 423"/><path d="M238 413.8 L241 423"/></g>
<path d="M196 421.6 H257 L258.5 423.4 H194.5 Z" fill="#e2e6f4"/>
<path d="M195.5 423.2 H257.4 Q260 423.4 259.6 426.8 Q259.2 430.4 256 430.4 H197 Q193.6 430.4 193.4 426.8 Q193.2 423.4 195.5 423.2 Z" fill="#d0d6ee"/>
<rect x="204.8" y="424.6" width="40.6" height="5.1" fill="#bcbcc6"/>
<path d="M207.3 428.6 L208.5 425.4 L209.7 428.6 Z" fill="#1e1e1e"/><circle cx="208.5" cy="428" r="1.1" fill="#222"/>
<path d="M213.8 428.6 L215 425.4 L216.2 428.6 Z" fill="#1e1e1e"/><circle cx="215" cy="428" r="1.1" fill="#222"/>
<g fill="#c9aa52"><rect x="219.1" y="425.5" width="4.6" height="3.6"/><rect x="224.6" y="425.5" width="4.6" height="3.6"/><rect x="229.8" y="425.5" width="4.6" height="3.6"/><rect x="235" y="425.5" width="4.6" height="3.6"/></g>
<g fill="#6a5224"><rect x="220.1" y="426.5" width="2.6" height="1.8"/><rect x="225.6" y="426.5" width="2.6" height="1.8"/><rect x="230.8" y="426.5" width="2.6" height="1.8"/><rect x="236" y="426.5" width="2.6" height="1.8"/></g>
<rect x="242.2" y="425" width="2.9" height="4.4" fill="#2a2a2a"/>
<circle cx="250.5" cy="427" r=".9" fill="#b0b4c8"/>
<!-- ONT -->
<path d="M585 291.8 H674.9 L682.9 300.5 H579.1 Z" fill="#e5e2e7"/>
<path d="M579.1 300.3 H682.9 V314 Q682.9 317.4 679.5 317.4 H582.5 Q579.1 317.4 579.1 314 Z" fill="#dcd8de"/>
<path d="M579.1 300.3 H682.9 V302 H579.1 Z" fill="#d2ced6"/>
<circle cx="586.3" cy="310.5" r=".7" fill="#333"/>
<path d="M591 307.8 L593.7 306 L596.5 307.8 V312.6 L593.7 314.3 L591 312.6 Z" fill="#b9b7b6" stroke="#7a7876" stroke-width=".5"/>
<circle cx="593.7" cy="310.2" r="1.5" fill="#e8e8e8" stroke="#8a8886" stroke-width=".5"/>
<rect x="601.7" y="308" width="7.3" height="6.2" fill="#6f9a64"/>
<rect x="602.6" y="308.9" width="5.5" height="4.4" fill="#2f5a2c"/>
<rect x="615" y="308.4" width="7.3" height="6" fill="#6a6a9a"/>
<rect x="615.9" y="309.2" width="5.5" height="4.4" fill="#2c2c62"/>
<rect x="625.2" y="306.3" width="17.1" height="8" fill="#d8d052"/>
<rect x="626.6" y="308.4" width="5.2" height="3.8" rx="1" fill="#5a4614"/>
<rect x="635" y="308.4" width="5.2" height="3.8" rx="1" fill="#5a4614"/>
<rect x="643" y="306.7" width="8.8" height="6.8" fill="#2c2a42"/>
<rect x="653.8" y="306" width="9.9" height="7.5" fill="#3a3a3a"/>
<rect x="654.6" y="306.8" width="8.3" height="6" fill="#161616"/>
<rect x="666" y="309.5" width="1.2" height="3" fill="#f4f4f4"/>
<rect x="670.1" y="308" width="5.9" height="5.6" fill="#262626"/>
<!-- STB antennas -->
<path d="M217 308.5 L217.3 293.8 Q218 292.6 218.7 293.8 L219 308.5 Z" fill="#262626"/>
<rect x="113.4" y="184.8" width="1.4" height="2.4" fill="#666"/>
<!-- WiFi logo -->
<path d="M676.5 176.5 H680.6 L683 186 L685.3 176.5 H688 L690.3 186 L692.6 176.5 H696.2 L692.2 191.2 H688.6 L686.6 183.2 L684.6 191.2 H681 Z" fill="#6aa443"/>
<path d="M705.8 176.5 H713.8 V179.6 H709.5 V182.4 H713 V185.3 H709.5 V191.2 H705.8 Z" fill="#e2692e"/>
<rect x="715" y="182" width="3.5" height="9.2" fill="#e2692e"/>
<rect x="715" y="176.8" width="3.5" height="3.2" fill="#e2692e"/>
<g fill="none" stroke="#a08262" stroke-width="1.1"><path d="M699.6 172 L695 191.2 M699.6 172 L704.2 191.2 M697.8 180 L701.8 186 M701.4 180 L697.2 186 M696.6 186 L703.2 191 M702.6 186 L696.2 191"/></g>
<circle cx="699.6" cy="172.5" r="1.2" fill="#b09070"/>
<g fill="none" stroke="#74abd8" stroke-width="2.2"><path d="M695.91 172.88 A4.5 4.5 0 0 1 695.91 167.72"/><path d="M693.46 174.6 A7.5 7.5 0 0 1 693.46 166"/><path d="M703.29 167.72 A4.5 4.5 0 0 1 703.29 172.88"/><path d="M705.74 166 A7.5 7.5 0 0 1 705.74 174.6"/></g>
<!-- cables -->
<g fill="none" stroke-width="1.5">
<g stroke="#9b7489">
<path d="M175 69 L203 69"/>
<path d="M72.5 191.6 L100 191.6"/>
<path d="M179 316.3 L202.5 316.3"/>
<path d="M72.5 428.9 L109 428.9"/>
<path d="M568.8 196 L568.8 226.5"/>
</g>
<g stroke="#8f7c86">
<path d="M262 68.9 L307.60 68.90 Q311.6 68.9 311.60 72.90 L311.6 84.5"/>
<path d="M72 479 L228.70 479.00 Q233.2 479 233.20 474.50 L233.2 431"/>
<path d="M171 434.4 L217.90 434.40 Q221.4 434.4 221.40 430.90 L221.4 430.5"/>
<path d="M601.5 229 L626.50 229.00 Q630.5 229 630.50 233.00 L630.5 308"/>
<path d="M637.6 199 L637.6 308"/>
<path d="M699.3 195 L699.30 225.50 Q699.3 229 695.80 229.00 L651.70 229.00 Q647.7 229 647.70 233.00 L647.7 308"/>
</g>
<g stroke="#96939d">
<path d="M262 71.4 L273.80 71.40 Q277.8 71.4 277.80 75.40 L277.80 86.60 Q277.8 90.6 281.80 90.60 L291 90.6"/>
<path d="M305.4 90 L305.40 99.60 Q305.4 104.6 310.40 104.60 L386.60 104.60 Q394.6 104.6 394.60 112.60 L394.60 291.20 Q394.6 299.2 402.60 299.20 L422 299.2"/>
<path d="M127.2 187.5 L127.20 174.50 Q127.2 170.5 131.20 170.50 L206.80 170.50 Q210.8 170.5 210.80 174.50 L210.8 188"/>
<path d="M156 191.6 L186 191.6"/>
<path d="M203.2 195 L203.20 208.90 Q203.2 213.4 207.70 213.40 L369.30 213.40 Q378.3 213.4 378.30 222.40 L378.30 298.50 Q378.3 307 386.80 307.00 L420 307"/>
<path d="M265 314 L419 314"/>
<path d="M171 429.2 L194 429.2"/>
<path d="M225.8 413.5 L225.80 398.70 Q225.8 394.2 230.30 394.20 L374.00 394.20 Q380.5 394.2 380.50 387.70 L380.50 332.00 Q380.5 324.5 388.00 324.50 L421 324.5"/>
<path d="M421.3 298 L421.30 239.10 Q421.3 230.6 429.80 230.60 L540.5 230.6"/>
<path d="M442 311.6 L579.5 311.6"/>
</g>
<!-- PON / CATV -->
<path d="M617.8 314 L617.80 328.90 Q617.8 330.4 619.30 330.40 L656 330.4" stroke="#cfa766"/>
<path d="M603.7 314 L603.70 349.50 Q603.7 351 605.20 351.00 L656 351" stroke="#e2d48e"/>
</g>
<!-- splitter -->
<path d="M442.1 288.2 V335 A23.4 23.4 0 0 1 442.1 288.2 Z" fill="#fff" stroke="#b06a64" stroke-width="2"/>

<!-- legend lines -->
<g stroke-width="1.6">
<path d="M476 439.4 H546" stroke="#d6b077"/>
<path d="M476 470 H546" stroke="#e0d29a"/>
<path d="M476 501.3 H546" stroke="#8c5e92"/>
<path d="M651.7 439.4 H721.8" stroke="#a29ea6"/>
<path d="M651.7 470 H721.8" stroke="#98798a"/>
</g>
</svg>

<!-- texts -->
<div class="t" id="L0" style="font-family:'Liberation Serif',serif;color:#111;left:446.70px;top:49.10px;font-size:18.00px;transform:scaleX(1.000)">GSD-HOT<span class="cj">三合一型</span>FTTH<span class="cj">光终端应用场景</span></div>
<div class="t" id="L1" style="font-family:'Liberation Sans',sans-serif;color:#3f5a88;-webkit-text-stroke:.1px #3f5a88;left:338.50px;top:21.70px;font-size:11.03px;transform:scaleX(1.029)">场景 二</div>
<div class="t" id="L2" style="font-family:'Liberation Sans',sans-serif;color:#3f5a88;-webkit-text-stroke:.1px #3f5a88;left:338.80px;top:156.40px;font-size:10.62px;transform:scaleX(1.063)">场景 三</div>
<div class="t" id="L3" style="font-family:'Liberation Sans',sans-serif;color:#3f5a88;-webkit-text-stroke:.1px #3f5a88;left:338.50px;top:280.40px;font-size:9.95px;transform:scaleX(1.169)">场景四</div>
<div class="t" id="L4" style="font-family:'Liberation Sans',sans-serif;color:#3f5a88;-webkit-text-stroke:.1px #3f5a88;left:338.80px;top:406.40px;font-size:9.95px;transform:scaleX(1.143)">场景五</div>
<div class="t" id="L5" style="font-family:'Liberation Sans',sans-serif;color:#3f5a88;-webkit-text-stroke:.1px #3f5a88;left:467.70px;top:157.40px;font-size:10.84px;transform:scaleX(1.033)">场景 一</div>
<div class="t" id="L6" style="font-family:'Liberation Serif',serif;color:#1c1c1c;left:22.70px;top:92.60px;font-size:10.60px;transform:scaleX(0.951)">PAD</div>
<div class="t" id="L7" style="font-family:'Liberation Serif',serif;color:#1c1c1c;left:77.10px;top:92.60px;font-size:10.60px;transform:scaleX(1.012)">PC</div>
<div class="t" id="L8" style="font-family:'Liberation Serif',serif;color:#1c1c1c;left:141.10px;top:92.40px;font-size:10.60px;transform:scaleX(0.899)">TV</div>
<div class="t" id="L9" style="font-family:'Liberation Serif',serif;color:#1c1c1c;left:221.00px;top:83.20px;font-size:10.60px;transform:scaleX(0.974)">STB</div>
<div class="t" id="L10" style="font-family:'Liberation Sans',sans-serif;color:#1e1e1e;-webkit-text-stroke:.08px #1e1e1e;left:339.80px;top:80.30px;font-size:9.35px;transform:scaleX(1.131)">WIFI型微终端</div>
<div class="t" id="L11" style="font-family:'Liberation Serif',serif;color:#1c1c1c;left:40.00px;top:210.40px;font-size:10.60px;transform:scaleX(0.939)">TV</div>
<div class="t" id="L12" style="font-family:'Liberation Serif',serif;color:#1c1c1c;left:117.50px;top:210.40px;font-size:10.60px;transform:scaleX(0.935)">STB</div>
<div class="t" id="L13" style="font-family:'Liberation Sans',sans-serif;color:#1e1e1e;-webkit-text-stroke:.08px #1e1e1e;left:245.60px;top:184.10px;font-size:9.57px;transform:scaleX(1.058)">微终端</div>
<div class="t" id="L14" style="font-family:'Liberation Serif',serif;color:#1c1c1c;left:22.60px;top:339.70px;font-size:10.60px;transform:scaleX(0.955)">PAD</div>
<div class="t" id="L15" style="font-family:'Liberation Serif',serif;color:#1c1c1c;left:80.00px;top:339.70px;font-size:10.60px;transform:scaleX(1.065)">PC</div>
<div class="t" id="L16" style="font-family:'Liberation Serif',serif;color:#1c1c1c;left:145.30px;top:339.70px;font-size:10.60px;transform:scaleX(0.869)">TV</div>
<div class="t" id="L17" style="font-family:'Liberation Serif',serif;color:#1e1e1e;-webkit-text-stroke:.08px #1e1e1e;left:214.00px;top:333.90px;font-size:8.68px;transform:scaleX(1.087)">原有STB</div>
<div class="t" id="L18" style="font-family:'Liberation Serif',serif;color:#1e1e1e;-webkit-text-stroke:.08px #1e1e1e;left:201.20px;top:348.50px;font-size:9.24px;transform:scaleX(1.058)">(内置EoC板卡)</div>
<div class="t" id="L19" style="font-family:'Liberation Sans',sans-serif;color:#1e1e1e;-webkit-text-stroke:.08px #1e1e1e;left:414.90px;top:339.90px;font-size:9.72px;transform:scaleX(0.958)">分配器</div>
<div class="t" id="L20" style="font-family:'Liberation Serif',serif;color:#1c1c1c;left:560.20px;top:151.00px;font-size:10.60px;transform:scaleX(0.867)">TV</div>
<div class="t" id="L21" style="font-family:'Liberation Serif',serif;color:#1c1c1c;left:635.30px;top:151.00px;font-size:10.60px;transform:scaleX(1.056)">PC</div>
<div class="t" id="L22" style="font-family:'Liberation Serif',serif;color:#1c1c1c;left:558.80px;top:247.60px;font-size:10.60px;transform:scaleX(0.964)">STB</div>
<div class="t" id="L23" style="font-family:'Liberation Serif',serif;color:#2a2a2a;left:692.60px;top:301.80px;font-size:9.35px;transform:scaleX(1.029)">三合一光终端</div>
<div class="t" id="L24" style="font-family:'Liberation Serif',serif;color:#1e1e1e;-webkit-text-stroke:.08px #1e1e1e;left:658.80px;top:329.30px;font-size:9.10px;transform:scaleX(1.100)">PON 光纤接口</div>
<div class="t" id="L25" style="font-family:'Liberation Serif',serif;color:#1e1e1e;-webkit-text-stroke:.08px #1e1e1e;left:659.80px;top:349.50px;font-size:9.24px;transform:scaleX(1.048)">CATV 光纤接口</div>
<div class="t" id="L26" style="font-family:'Liberation Serif',serif;color:#1c1c1c;left:40.80px;top:447.90px;font-size:10.60px;transform:scaleX(0.894)">TV</div>
<div class="t" id="L27" style="font-family:'Liberation Serif',serif;color:#1c1c1c;left:125.20px;top:447.90px;font-size:10.60px;transform:scaleX(0.965)">STB</div>
<div class="t" id="L28" style="font-family:'Liberation Serif',serif;color:#1c1c1c;left:39.00px;top:500.50px;font-size:10.60px;transform:scaleX(0.974)">PC</div>
<div class="t" id="L29" style="font-family:'Liberation Serif',serif;color:#1e1e1e;-webkit-text-stroke:.08px #1e1e1e;left:238.00px;top:438.10px;font-size:8.91px;transform:scaleX(1.151)">原有EoC终端</div>
<div class="t" id="L30" style="font-family:'Liberation Serif',serif;color:#2a2a2a;left:480.00px;top:415.30px;font-size:10.62px;transform:scaleX(0.966)">线缆图例：</div>
<div class="t" id="L31" style="font-family:'Liberation Serif',serif;color:#2a2a2a;left:554.40px;top:434.90px;font-size:9.28px;transform:scaleX(1.055)">PON光纤接口</div>
<div class="t" id="L32" style="font-family:'Liberation Serif',serif;color:#2a2a2a;left:554.30px;top:465.90px;font-size:8.96px;transform:scaleX(1.097)">CATN光纤</div>
<div class="t" id="L33" style="font-family:'Liberation Serif',serif;color:#2a2a2a;left:553.80px;top:496.60px;font-size:8.91px;transform:scaleX(1.155)">视频线</div>
<div class="t" id="L34" style="font-family:'Liberation Serif',serif;color:#2a2a2a;left:729.30px;top:435.40px;font-size:8.91px;transform:scaleX(1.009)">同轴电缆</div>
<div class="t" id="L35" style="font-family:'Liberation Serif',serif;color:#2a2a2a;left:729.30px;top:465.60px;font-size:8.68px;transform:scaleX(1.025)">以太网线</div>
<!-- /texts -->
</body></html>
